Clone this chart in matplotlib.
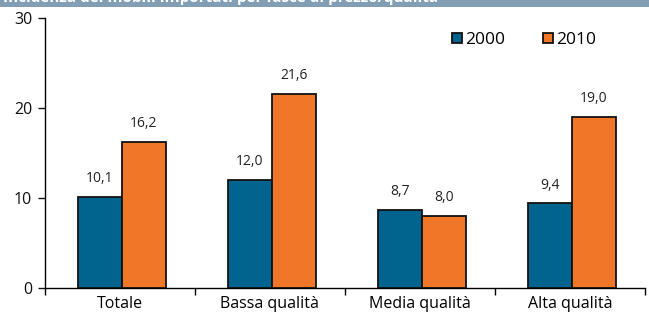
import matplotlib
matplotlib.use('Agg')
import matplotlib.pyplot as plt
from matplotlib.patches import Rectangle
import numpy as np

plt.rcParams.update({
    'font.family': ['Open Sans', 'DejaVu Sans'],
    'font.size': 11,
    'axes.linewidth': 1.0,
})

categories = ['Totale', 'Bassa qualità', 'Media qualità', 'Alta qualità']
vals_2000 = [10.1, 12.0, 8.7, 9.4]
vals_2010 = [16.2, 21.6, 8.0, 19.0]
series_labels = ['2000', '2010']
title = 'Incidenza dei mobili importati per fasce di prezzo/qualità'

C_2000 = '#00648f'
C_2010 = '#f07628'

fig = plt.figure(figsize=(6.49, 3.17), dpi=100)
fig.patch.set_facecolor('white')

# title band, cropped at the top as in the source
fig.patches.append(Rectangle((0, 0.977), 1, 0.03, transform=fig.transFigure,
                             facecolor='#819eb4', edgecolor='none', zorder=0))
fig.text(0.005, 0.983, title, color='white', fontsize=11, fontweight='bold',
         ha='left', va='bottom')

ax = fig.add_axes([0.069, 0.0915, 0.925, 0.852])

x = np.arange(len(categories))
w = 0.293
b1 = ax.bar(x - w / 2 + 0.012, vals_2000, w, color=C_2000, edgecolor='#111111', linewidth=1.3,
            label=series_labels[0], zorder=3)
b2 = ax.bar(x + w / 2 + 0.012, vals_2010, w, color=C_2010, edgecolor='#111111', linewidth=1.3,
            label=series_labels[1], zorder=3)

for bars in (b1, b2):
    for bar in bars:
        h = bar.get_height()
        ax.text(bar.get_x() + bar.get_width() / 2, h + 1.2, f'{h:.1f}'.replace('.', ','),
                ha='center', va='bottom', fontsize=10, color='#222222')

ax.set_xlim(-0.5, len(categories) - 0.5)
ax.set_ylim(0, 30)
ax.set_yticks([0, 10, 20, 30])
ax.tick_params(axis='y', length=5, width=1, labelsize=11.5, pad=4, colors='#111111')
ax.set_xticks(np.arange(len(categories) + 1) - 0.5)
ax.set_xticklabels([])
ax.set_xticks(x, minor=True)
ax.set_xticklabels(categories, minor=True, fontsize=11.5)
ax.tick_params(axis='x', which='major', length=5, width=1)
ax.tick_params(axis='x', which='minor', length=0, pad=6)
for s in ('top', 'right'):
    ax.spines[s].set_visible(False)

leg = ax.legend(loc='upper right', bbox_to_anchor=(0.945, 1.005), ncol=2, frameon=False,
                handlelength=0.55, handleheight=0.55, handletextpad=0.2, columnspacing=2.2,
                fontsize=12.5)

fig.savefig('out.png', dpi=100, facecolor='white')
